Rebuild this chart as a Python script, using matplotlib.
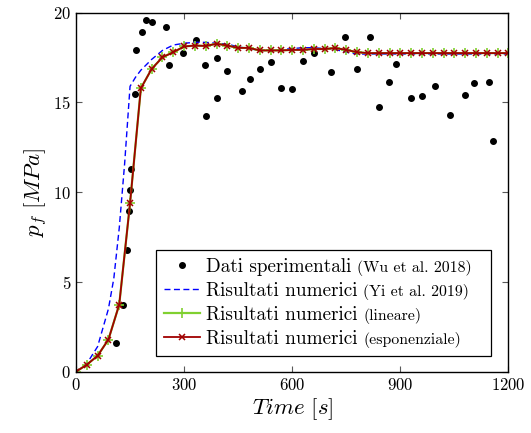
import matplotlib
matplotlib.use("Agg")
import matplotlib.pyplot as plt
from matplotlib.offsetbox import TextArea, DrawingArea

plt.rcParams['font.family'] = 'serif'
plt.rcParams['font.serif'] = ['cmr10']
plt.rcParams['mathtext.fontset'] = 'cm'
plt.rcParams['axes.formatter.use_mathtext'] = True

# experimental data (Wu et al. 2018)
t_exp = [111, 131, 142, 147, 150, 153, 164, 166, 182, 193, 211, 249, 259, 296,
         333, 358, 362, 390, 390, 418, 460, 483, 511, 541, 570, 600, 630, 659,
         708, 747, 780, 816, 841, 868, 888, 929, 959, 996, 1038, 1079, 1103,
         1146, 1156]
p_exp = [1.60, 3.74, 6.80, 8.94, 10.11, 11.27, 15.46, 17.93, 18.94, 19.61, 19.48,
         19.18, 17.09, 17.73, 18.47, 17.08, 14.23, 17.45, 15.23, 16.76, 15.62,
         16.30, 16.89, 17.25, 15.79, 15.77, 17.32, 17.78, 16.67, 18.62, 16.89,
         18.62, 14.75, 16.16, 17.15, 15.23, 15.36, 15.94, 14.28, 15.44, 16.11,
         16.16, 12.87]

# numerical results (Yi et al. 2019)
t_yi = [0, 30, 60, 90, 105, 120, 135, 150, 165, 180, 210, 240, 270, 300, 330,
        360, 390, 420, 450, 480, 510, 540, 570, 600, 630, 660, 690, 720, 750,
        780, 810, 900, 1000, 1100, 1200]
p_yi = [0, 0.45, 1.4, 3.5, 5.2, 8.0, 11.6, 15.9, 16.4, 16.8, 17.4, 17.9, 18.2,
        18.3, 18.35, 18.35, 18.3, 18.25, 18.1, 18.0, 17.9, 17.9, 17.95, 18.0,
        18.05, 18.05, 18.0, 17.95, 17.8, 17.7, 17.7, 17.7, 17.7, 17.7, 17.7]

# present model, step 30 s
t_num = [0, 30, 60, 90, 120, 150, 180, 210, 240, 270, 300, 330, 360, 390, 420,
         450, 480, 510, 540, 570, 600, 630, 660, 690, 720, 750, 780, 810, 840,
         870, 900, 930, 960, 990, 1020, 1050, 1080, 1110, 1140, 1170, 1200]
p_lin = [0, 0.39, 0.89, 1.79, 3.74, 9.39, 15.79, 16.87, 17.52, 17.80, 18.12,
         18.17, 18.15, 18.27, 18.17, 18.04, 18.04, 17.90, 17.90, 17.90, 17.93,
         17.93, 17.98, 17.98, 18.03, 17.93, 17.80, 17.75, 17.75, 17.75, 17.75,
         17.75, 17.75, 17.75, 17.75, 17.75, 17.75, 17.75, 17.75, 17.75, 17.75]
p_exp_model = [0, 0.39, 0.89, 1.79, 3.74, 9.39, 15.79, 16.87, 17.52, 17.80, 18.12,
               18.17, 18.15, 18.27, 18.17, 18.04, 18.04, 17.90, 17.90, 17.90, 17.93,
               17.93, 17.98, 17.98, 18.03, 17.93, 17.80, 17.75, 17.75, 17.75, 17.75,
               17.75, 17.75, 17.75, 17.75, 17.75, 17.75, 17.75, 17.75, 17.75, 17.75]

main_labels = ['Dati sperimentali', 'Risultati numerici', 'Risultati numerici',
               'Risultati numerici']
sub_labels = ['(Wu et al. 2018)', '(Yi et al. 2019)', '(lineare)', '(esponenziale)']

fig = plt.figure(figsize=(5.31, 4.33), dpi=100)
ax = fig.add_axes([0.1431, 0.1416, 0.8145, 0.8290])

ax.plot(t_exp, p_exp, linestyle='none', marker='o', markersize=4,
        color='black', label=main_labels[0])
ax.plot(t_yi, p_yi, color='#0000ff', linewidth=1.0, dashes=(4.3, 2.5),
        label=main_labels[1])
ax.plot(t_num, p_lin, color='#80d030', linewidth=1.6, marker='+',
        markersize=7, markeredgewidth=1.2, label=main_labels[2])
ax.plot(t_num, p_exp_model, color='#a00000', linewidth=1.3, marker='x',
        markersize=4.5, markeredgewidth=1.1, label=main_labels[3])

ax.set_xlim(0, 1200)
ax.set_ylim(0, 20)
ax.set_xticks([0, 300, 600, 900, 1200])
ax.set_yticks([0, 5, 10, 15, 20])
ax.tick_params(direction='in', length=4, width=0.8, top=True, right=True,
               labelsize=12, color='0.35')
for s in ax.spines.values():
    s.set_linewidth(1.0)

ax.set_xlabel(r'$Time\ [s]$', fontsize=16.5, labelpad=3)
ax.set_ylabel(r'$p_f\ [MPa]$', fontsize=16.5, labelpad=2)

leg = ax.legend(loc='lower right', bbox_to_anchor=(0.9595, 0.0437),
                fontsize=13.8, frameon=True, fancybox=False,
                edgecolor='black', framealpha=1, handlelength=1.9,
                handletextpad=0.3, borderpad=0.42, labelspacing=0.32,
                borderaxespad=0)
leg.get_frame().set_linewidth(0.9)

# smaller parenthetical text appended to each legend row,
# plus some empty room at the right like the original box
for col in leg._legend_handle_box.get_children():
    for i, (row, sub) in enumerate(zip(col.get_children(), sub_labels)):
        ta = TextArea(sub, textprops=dict(size=11.4, verticalalignment='baseline',
                                          horizontalalignment='left',
                                          family='serif'))
        ta.set_figure(fig)
        row.get_children().append(ta)
        if i == 0:
            pad = DrawingArea(4, 1)
            pad.set_figure(fig)
            row.get_children().append(pad)

fig.savefig('out.png', dpi=100)
